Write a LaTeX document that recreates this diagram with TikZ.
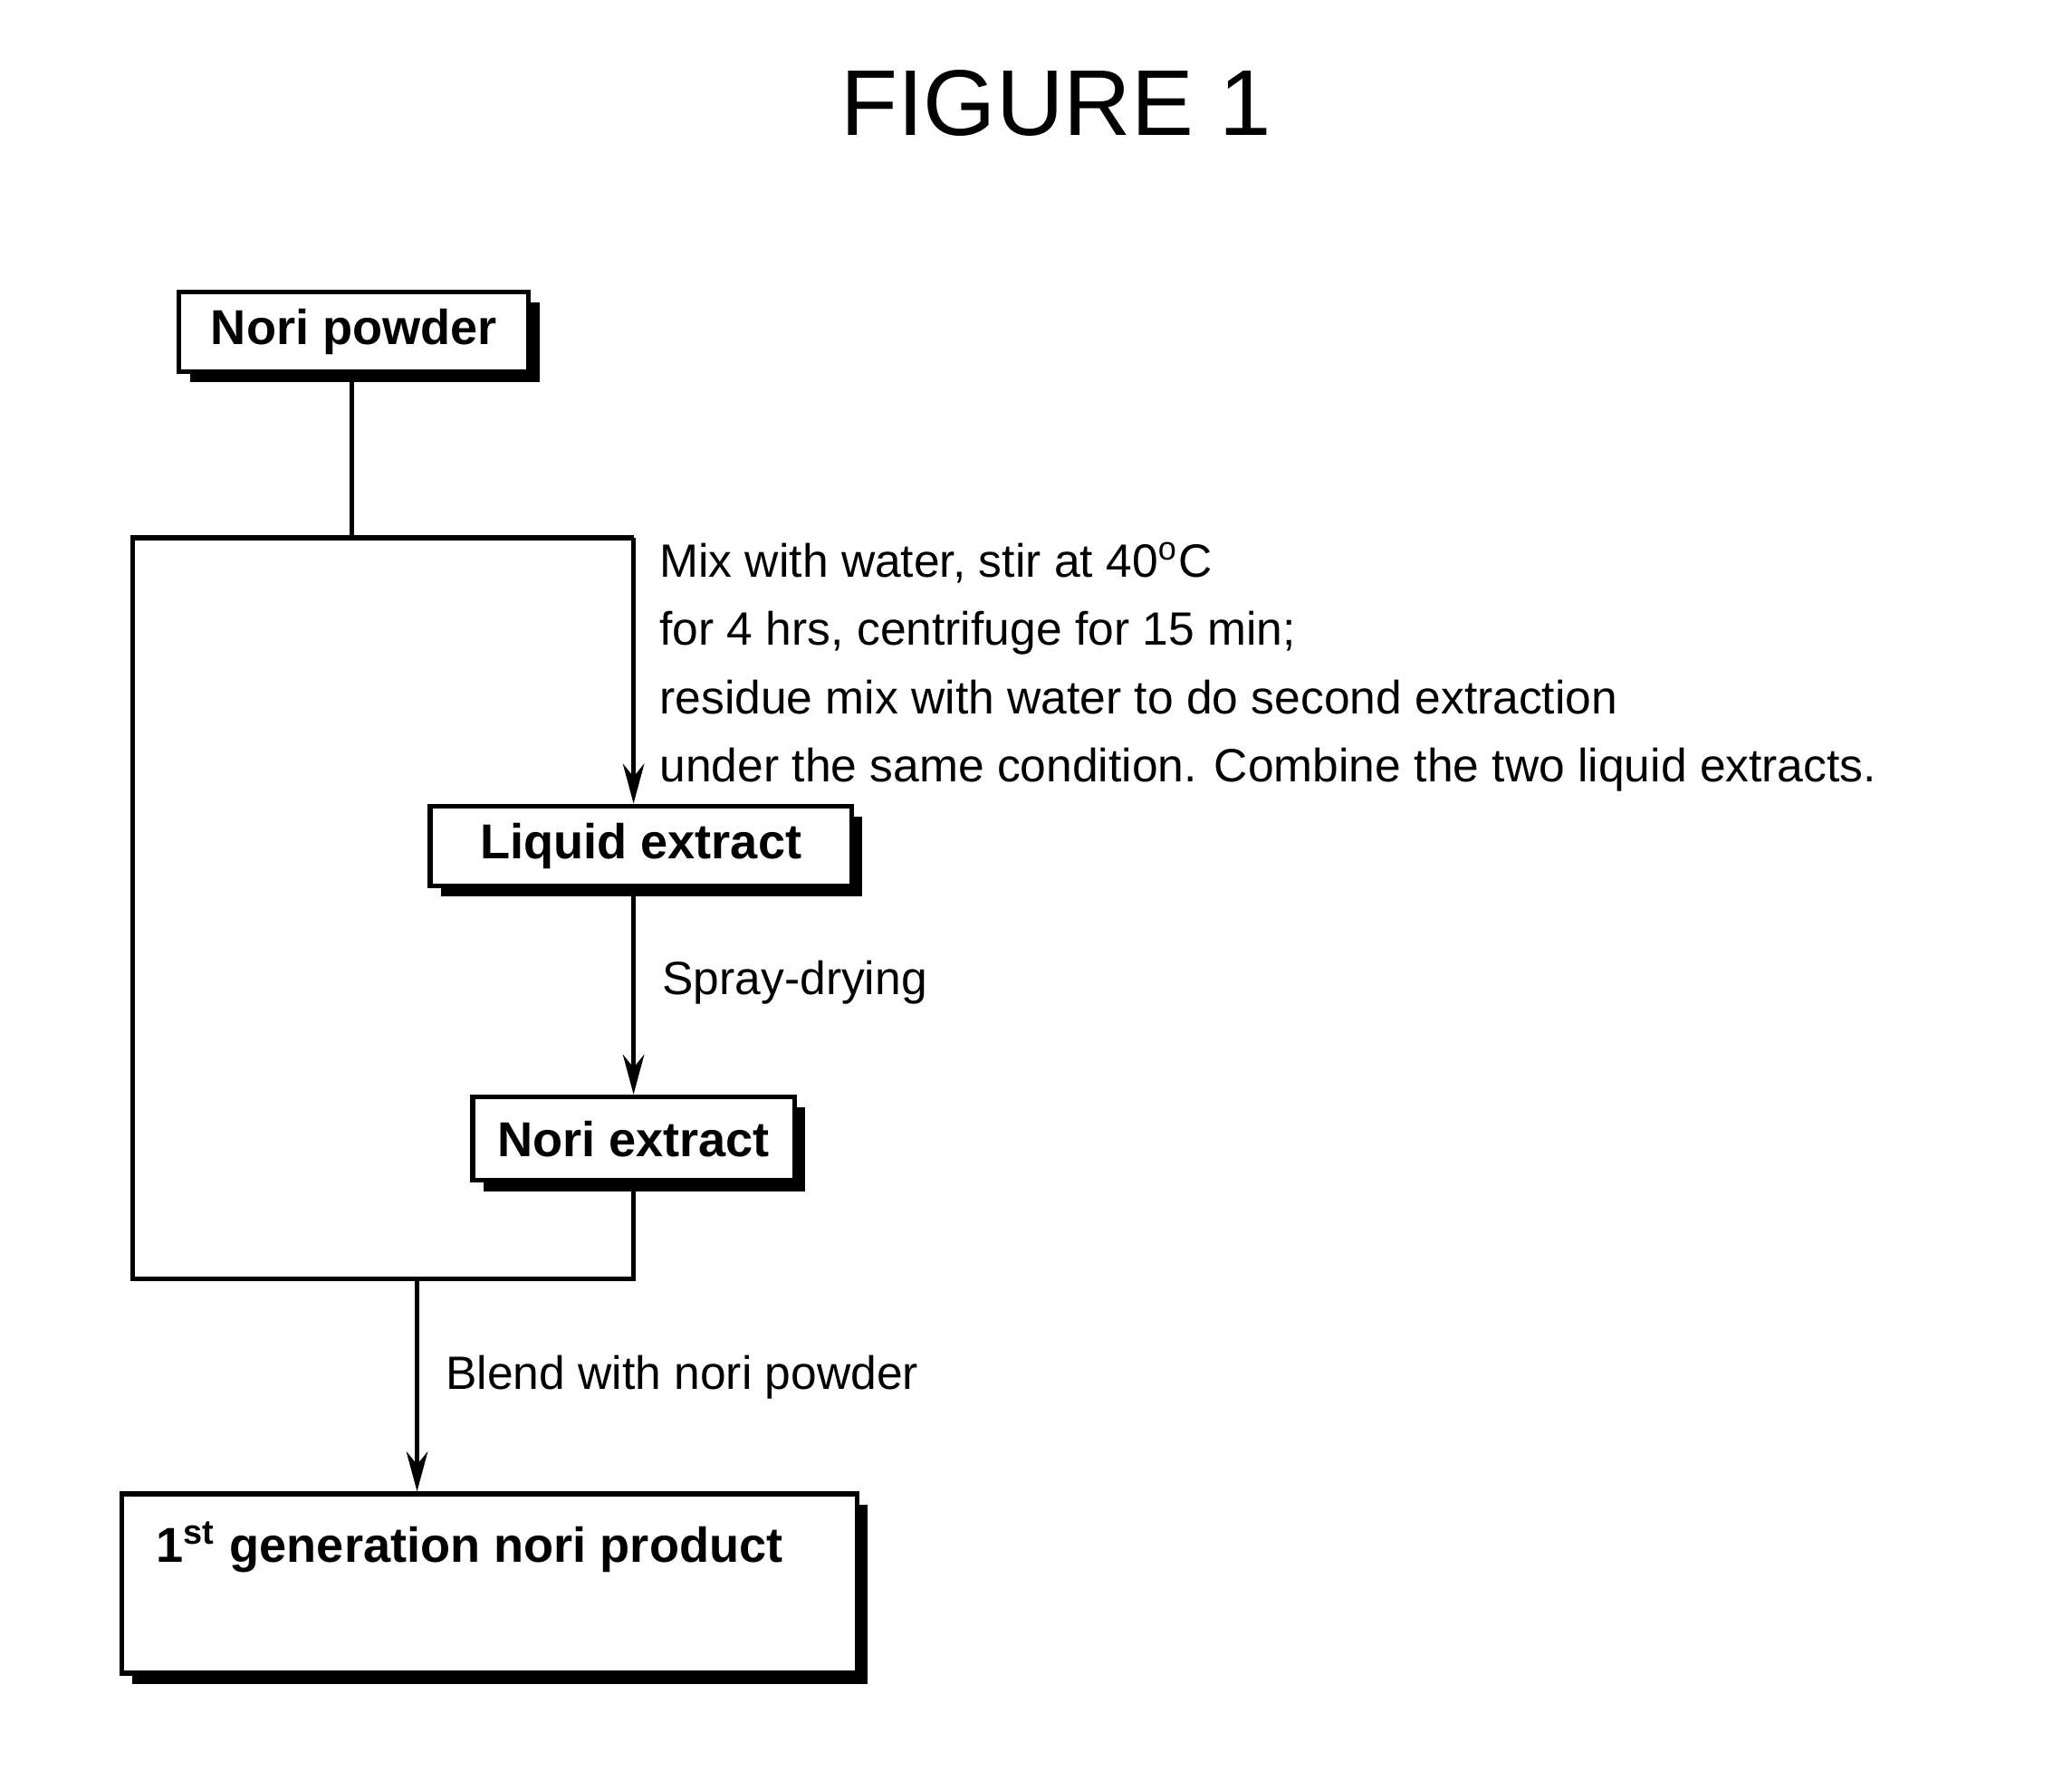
\documentclass[tikz,border=0pt]{standalone}
\usepackage{fontspec}
\setmainfont{Liberation Sans}
\usetikzlibrary{arrows.meta, shadows}

\begin{document}
\begin{tikzpicture}[x=0.01cm, y=-0.01cm,
    box/.style={draw=black, line width=1pt, fill=white, font=\bfseries\fontsize{10.5}{12}\selectfont,
      inner sep=0pt, drop shadow={shadow xshift=0.08cm, shadow yshift=-0.08cm, fill=black, opacity=1}},
    stepnote/.style={font=\fontsize{10}{14.6}\selectfont, align=left, inner sep=0pt},
    flow/.style={line width=1pt, -{Stealth[length=0.3cm, width=0.16cm]}}]
  \useasboundingbox (0,0) rectangle (1560,1340);
  \node[font=\fontsize{20}{24}\selectfont] (title) at (795,78) {FIGURE 1};
  % boxes
  \node[box, minimum width=2.63cm, minimum height=0.6cm] (np) at (266.5,250) {Nori powder};
  \node[box, minimum width=3.17cm, minimum height=0.6cm] (le) at (482.5,637) {Liquid extract};
  \node[box, minimum width=2.42cm, minimum height=0.63cm] (ne) at (477,857.5) {Nori extract};
  \node[box, minimum width=5.53cm, minimum height=1.35cm] (prod) at (368.5,1192.5) {};
  \node[font=\bfseries\fontsize{10.5}{12}\selectfont, anchor=west] (prodtext) at (105,1165)
    {1\textsuperscript{st} generation nori product};
  % frame
  \coordinate (tl) at (100,405);
  \coordinate (tr) at (477,405);
  \coordinate (bl) at (100,963);
  \coordinate (br) at (477,963);
  \coordinate (split) at (314,963);
  \draw[line width=1pt] (np.south -| 265,0) -- (265,405);
  \draw[line width=1pt] (ne.south) -- (br) -- (bl) -- (tl) -- (tr);
  \draw[flow] (tr) -- (tr |- le.north);
  \draw[flow] (le.south -| tr) -- (ne.north -| tr);
  \draw[flow] (split) -- (split |- prod.north);
  % labels
  \node[stepnote, anchor=north west] (mix) at (496,408)
    {Mix with water, stir at 40\textsuperscript{o}C\\
     for 4 hrs, centrifuge for 15 min;\\
     residue mix with water to do second extraction\\
     under the same condition. Combine the two liquid extracts.};
  \node[stepnote, anchor=west] (spray) at (498,740) {Spray-drying};
  \node[stepnote, anchor=west] (blend) at (335,1037) {Blend with nori powder};
\end{tikzpicture}
\end{document}
